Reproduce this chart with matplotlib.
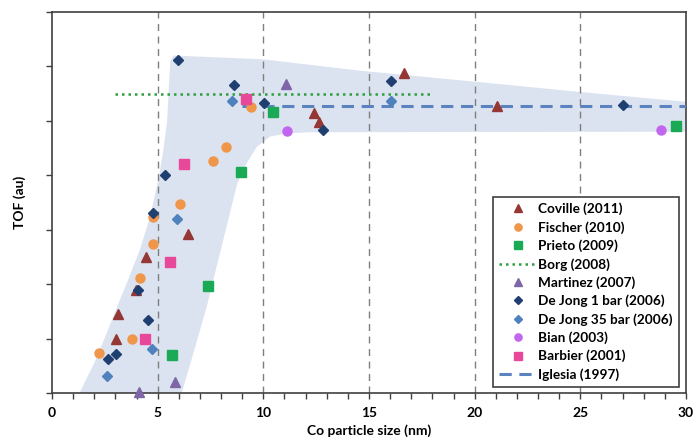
import matplotlib
matplotlib.use("Agg")
import matplotlib.pyplot as plt
from matplotlib.patches import Polygon
from matplotlib.lines import Line2D
import numpy as np

plt.rcParams['font.family'] = ['Lato', 'DejaVu Sans']
plt.rcParams['font.weight'] = 'bold'

# particle size (nm) vs TOF (arbitrary units), per literature source
coville_x = [3.05, 3.14, 3.96, 4.45, 6.42, 12.41, 12.63, 16.67, 21.04]
coville_y = [1.00, 1.45, 1.89, 2.49, 2.92, 5.15, 4.98, 5.87, 5.27]

fischer_x = [2.22, 3.80, 4.15, 4.80, 4.80, 6.07, 7.64, 8.25, 9.40]
fischer_y = [0.73, 0.99, 2.11, 2.74, 3.24, 3.48, 4.26, 4.51, 5.26]

prieto_x = [5.68, 7.38, 8.96, 10.44, 29.53]
prieto_y = [0.69, 1.96, 4.06, 5.16, 4.90]

borg_x = [3.0, 18.0]
borg_y = [5.50, 5.50]

martinez_x = [4.13, 5.82, 11.06]
martinez_y = [0.02, 0.21, 5.67]

dejong1_x = [2.63, 3.05, 4.09, 4.53, 4.77, 5.36, 5.98, 8.61, 10.03, 12.84, 16.04, 27.04]
dejong1_y = [0.63, 0.72, 1.90, 1.34, 3.30, 4.00, 6.12, 5.66, 5.32, 4.83, 5.74, 5.29]

dejong35_x = [2.62, 4.75, 5.90, 8.53, 16.04]
dejong35_y = [0.32, 0.80, 3.20, 5.36, 5.37]

bian_x = [11.12, 28.82]
bian_y = [4.82, 4.83]

barbier_x = [4.42, 5.58, 6.23, 9.20]
barbier_y = [1.00, 2.40, 4.20, 5.41]

iglesia_x = [9.0, 30.0]
iglesia_y = [5.27, 5.27]

# outline of the shaded trend band
band_x = [1.30, 2.00, 2.59, 3.10, 3.53, 4.16, 4.64, 5.03, 5.27, 5.45, 5.50, 5.55, 5.60, 5.75,
          10.0, 14.6, 20.0, 25.0, 30.0,
          30.0, 12.2, 11.1, 10.32, 9.69, 9.21, 8.77, 8.34, 7.79, 7.32, 6.69, 6.14]
band_y = [0.00, 0.55, 1.10, 1.60, 2.01, 2.63, 3.24, 3.91, 4.46, 5.00, 5.38, 5.80, 6.10, 6.20,
          6.13, 5.92, 5.72, 5.53, 5.35,
          4.80, 4.79, 4.77, 4.71, 4.52, 4.22, 3.85, 3.18, 2.32, 1.58, 0.73, 0.00]

fig = plt.figure(figsize=(6.95, 4.43), dpi=100)
ax = fig.add_axes([0.0748, 0.1129, 0.9122, 0.8601])

ax.add_patch(Polygon(np.column_stack([band_x, band_y]), closed=True,
                     facecolor='#dce3f0', edgecolor='none', zorder=1))

for xv in [5, 10, 15, 20, 25]:
    ax.axvline(xv, color='#7f7f7f', ls=(0, (5, 4)), lw=1.0, zorder=2)

ms = 6.5
ax.plot(borg_x, borg_y, color='#2e9e3e', ls=(0, (1, 1.6)), lw=1.8, zorder=3)
ax.plot(iglesia_x, iglesia_y, color='#5b83c0', ls=(0, (4, 2.5)), lw=2.2, zorder=3)

series = [
    (coville_x, coville_y, '^', '#953735', 'Coville (2011)'),
    (fischer_x, fischer_y, 'o', '#f0964a', 'Fischer (2010)'),
    (prieto_x, prieto_y, 's', '#1aaa55', 'Prieto (2009)'),
    (martinez_x, martinez_y, '^', '#7f66a8', 'Martinez (2007)'),
    (dejong1_x, dejong1_y, 'D', '#1f3f70', 'De Jong 1 bar (2006)'),
    (dejong35_x, dejong35_y, 'D', '#4f81bd', 'De Jong 35 bar (2006)'),
    (bian_x, bian_y, 'o', '#c266f0', 'Bian (2003)'),
    (barbier_x, barbier_y, 's', '#e8489a', 'Barbier (2001)'),
]
handles = {}
for sx, sy, mk, col, lab in series:
    size = ms - 1.3 if mk == 'D' else ms
    ax.plot(sx, sy, ls='none', marker=mk, ms=size, color=col, mec=col,
            zorder=4, clip_on=False)
    handles[lab] = Line2D([], [], ls='none', marker=mk, ms=size * 0.8, color=col)

handles['Borg (2008)'] = Line2D([], [], color='#2e9e3e', ls=(0, (1, 1.6)), lw=1.8)
handles['Iglesia (1997)'] = Line2D([], [], color='#5b83c0', ls=(0, (4, 2.5)), lw=2.2)

order = ['Coville (2011)', 'Fischer (2010)', 'Prieto (2009)', 'Borg (2008)',
         'Martinez (2007)', 'De Jong 1 bar (2006)', 'De Jong 35 bar (2006)',
         'Bian (2003)', 'Barbier (2001)', 'Iglesia (1997)']
leg = ax.legend([handles[k] for k in order], order, loc='lower right',
                bbox_to_anchor=(0.995, 0.005), fontsize=9.8, frameon=True,
                fancybox=False, edgecolor='#404040', framealpha=1,
                handlelength=2.7, handletextpad=0.15, labelspacing=0.42,
                borderpad=0.45, borderaxespad=0.3)
leg.get_frame().set_linewidth(1.2)
leg.set_zorder(6)

ax.set_xlim(0, 30)
ax.set_ylim(0, 7)
ax.set_xticks(np.arange(0, 31, 5))
ax.set_xticks(np.arange(0, 31, 1), minor=True)
ax.set_yticks(np.arange(0, 8, 1))
ax.set_yticklabels([])
ax.tick_params(axis='both', which='both', direction='out', length=4, width=1.0,
               color='#404040', labelsize=10, pad=6)
for lab in ax.get_xticklabels():
    lab.set_fontweight('bold')
for sp in ax.spines.values():
    sp.set_color('#404040')
    sp.set_linewidth(1.2)

ax.set_xlabel('Co particle size (nm)', fontsize=10, fontweight='bold', labelpad=4)
ax.set_ylabel('TOF (au)', fontsize=10, fontweight='bold', labelpad=9)

fig.savefig('out.png', dpi=100)
